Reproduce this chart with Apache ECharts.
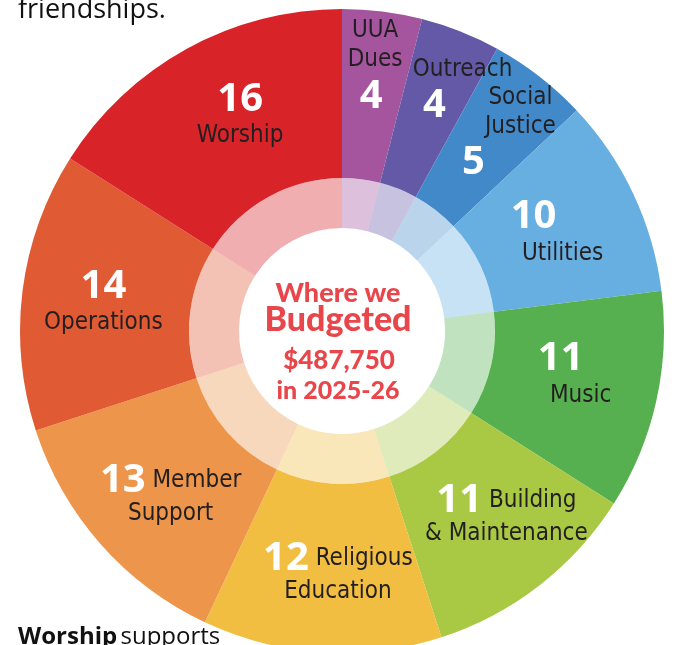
<!DOCTYPE html>
<html><head><meta charset="utf-8">
<script src="https://cdn.jsdelivr.net/npm/echarts@6/dist/echarts.min.js"></script>
<style>html,body{margin:0;padding:0;background:#fff;overflow:hidden}#c{width:674px;height:645px}</style>
</head><body><div id="c"></div>
<script>
// ---- data ----
const categories = ['UUA Dues','Outreach','Social Justice','Utilities','Music','Building & Maintenance','Religious Education','Member Support','Operations','Worship'];
const values = [4, 4, 5, 10, 11, 11, 12, 13, 14, 16];
const colors = ['#a4559e','#6459a7','#4189c9','#68afe1','#57b04f','#a9c844','#f1be41','#ed954a','#e05a33','#d82329'];
const centerLines = ['Where we', 'Budgeted', '$487,750', 'in 2025-26'];
const topText = 'friendships.';
const bottomBold = 'Worship';
const bottomRest = 'supports';

// ---- label layout styles (per slice) ----
const labelStyle = [
  {mode:'nameAbove', split:true,  shift:-4,  dx:3,  dy:-25},
  {mode:'nameAbove', split:false, shift:-28, dx:32, dy:-16},
  {mode:'nameAbove', split:true,  shift:-47, dx:31, dy:-7},
  {mode:'numAbove',  shift:-29, dx:3,  dy:3},
  {mode:'numAbove',  shift:-20, dx:4,  dy:-10},
  {mode:'inline', dx:17, dy:-6},
  {mode:'inline', dx:11, dy:2},
  {mode:'inline', dx:9,  dy:5},
  {mode:'numAbove',  shift:0, dx:0, dy:0},
  {mode:'numAbove',  shift:0, dx:14, dy:-6}
];

const NAME_FONT = '"Liberation Sans Narrow", "DejaVu Sans Condensed", "Roboto Condensed", sans-serif';
const NUM_FONT = '"Open Sans", Lato, sans-serif';

function numToken(v, shift) {
  if (shift && shift < 0) {
    return '{vp' + Math.round(-2 * shift) + '|' + v + '}';
  }
  return '{v|' + v + '}';
}

function formatLabel(p) {
  const s = labelStyle[p.dataIndex];
  const name = p.name;
  const v = p.value;
  const sp = name.indexOf(' ');
  if (s.mode === 'nameAbove') {
    const lines = s.split ? [name.slice(0, sp), name.slice(sp + 1)] : [name];
    return lines.map(l => '{n|' + l + '}').join('\n') + '\n' + numToken(v, s.shift);
  }
  if (s.mode === 'numAbove') {
    return numToken(v, s.shift) + '\n{n|' + name + '}';
  }
  return '{vi|' + v + '}{n| ' + name.slice(0, sp) + '}\n{n|' + name.slice(sp + 1) + '}';
}

const rich = {
  n: {fontFamily: NAME_FONT, fontSize: 24, color: '#231f20', lineHeight: 29, verticalAlign: 'middle'},
  v: {fontFamily: NUM_FONT, fontWeight: 'bold', fontSize: 40, color: '#ffffff', lineHeight: 44, verticalAlign: 'middle'},
  vi: {fontFamily: NUM_FONT, fontWeight: 'bold', fontSize: 40, color: '#ffffff', lineHeight: 38, verticalAlign: 'middle'}
};
labelStyle.forEach(s => {
  if (s.shift && s.shift < 0) {
    const pad = Math.round(-2 * s.shift);
    rich['vp' + pad] = Object.assign({}, rich.v, {padding: [0, pad, 0, 0]});
  }
});

const outerData = categories.map((c, i) => ({name: c, value: values[i], itemStyle: {color: colors[i]}}));
const innerData = categories.map((c, i) => ({name: c, value: values[i], itemStyle: {color: colors[i], opacity: 0.37}}));

const CX = 342, CY = 331;
const chart = echarts.init(document.getElementById('c'), null, {renderer: 'canvas'});
const red = '#e8464b';
const CFONT = 'Lato, "Open Sans", sans-serif';
chart.setOption({
  backgroundColor: '#ffffff',
  animation: false,
  series: [
    {
      type: 'pie', center: [CX, CY], radius: [153, 322], startAngle: 90, clockwise: true,
      avoidLabelOverlap: false, silent: true, emphasis: {disabled: true},
      data: outerData,
      label: {show: true, position: 'inside', rotate: 0, formatter: formatLabel, rich: rich, align: 'center'},
      labelLine: {show: false},
      labelLayout: function (params) {
        const s = labelStyle[params.dataIndex];
        return {dx: s.dx, dy: s.dy};
      }
    },
    {
      type: 'pie', center: [CX, CY], radius: [103, 153], startAngle: 90, clockwise: true,
      silent: true, emphasis: {disabled: true},
      data: innerData, label: {show: false}, labelLine: {show: false}
    }
  ],
  graphic: [
    {type: 'text', x: 338, y: 293, style: {text: centerLines[0], textAlign: 'center', textVerticalAlign: 'middle', fontFamily: CFONT, fontWeight: 900, fontSize: 27, fill: red}},
    {type: 'text', x: 338, y: 320, style: {text: centerLines[1], textAlign: 'center', textVerticalAlign: 'middle', fontFamily: CFONT, fontWeight: 900, fontSize: 34, fill: red}},
    {type: 'text', x: 339, y: 361, style: {text: centerLines[2], textAlign: 'center', textVerticalAlign: 'middle', fontFamily: CFONT, fontWeight: 900, fontSize: 26, fill: red}},
    {type: 'text', x: 338, y: 391, style: {text: centerLines[3], textAlign: 'center', textVerticalAlign: 'middle', fontFamily: CFONT, fontWeight: 900, fontSize: 25, fill: red}},
    {type: 'text', x: 18, y: 10, style: {text: topText, textAlign: 'left', textVerticalAlign: 'middle', fontFamily: '"Open Sans", sans-serif', fontSize: 27, fill: '#111'}},
    {type: 'text', x: 18, y: 637, style: {
      text: '{b|' + bottomBold + '} {r|' + bottomRest + '}', textAlign: 'left', textVerticalAlign: 'middle',
      rich: {
        b: {fontFamily: '"Open Sans", sans-serif', fontWeight: 'bold', fontSize: 24, fill: '#111'},
        r: {fontFamily: '"Open Sans", sans-serif', fontSize: 24, fill: '#111'}
      }
    }}
  ]
});
</script></body></html>
